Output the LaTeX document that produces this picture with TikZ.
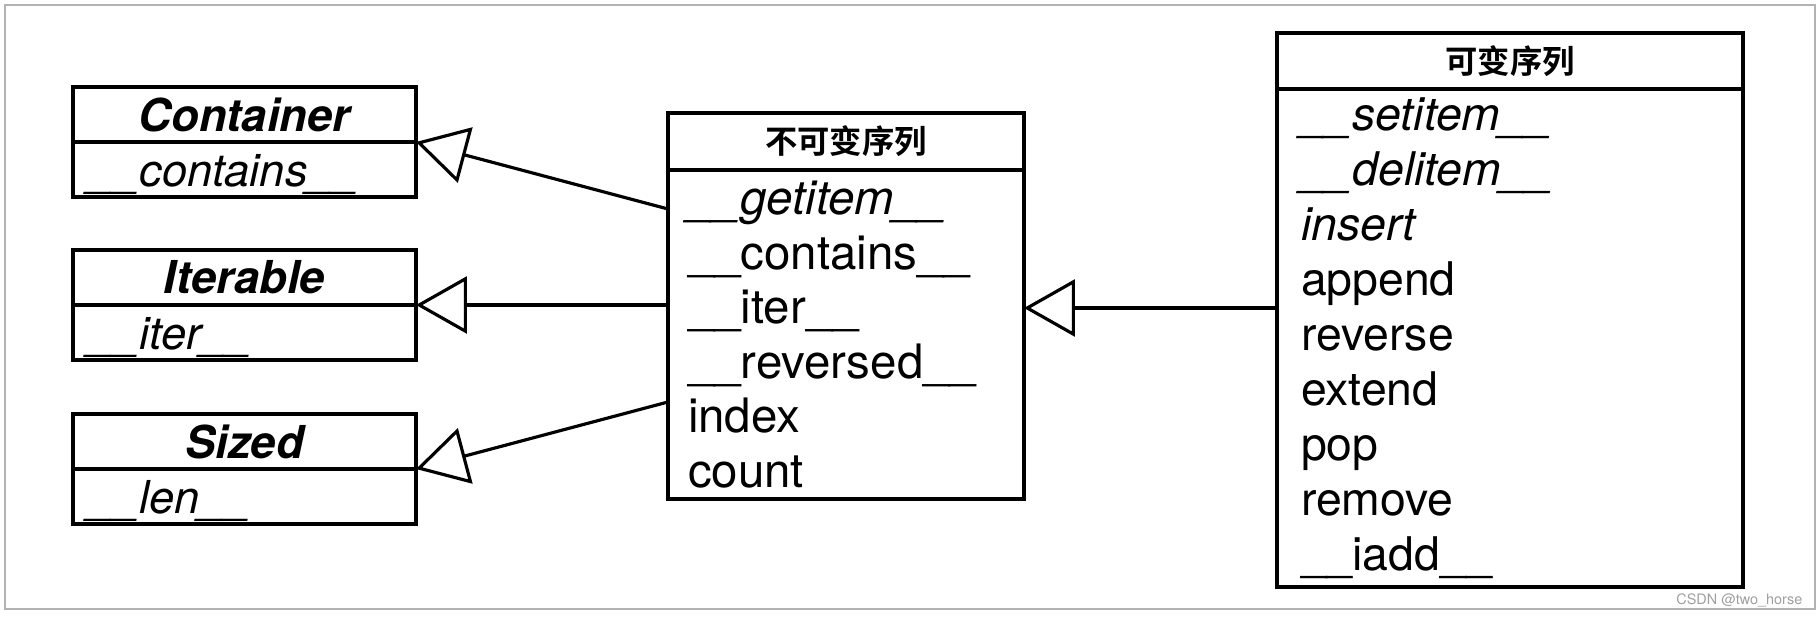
\documentclass[tikz,border=0pt]{standalone}
\usepackage{fontspec}
\setmainfont{TeX Gyre Heros}
\newfontfamily\cjk{Noto Sans CJK SC}[BoldFont={Noto Sans CJK SC Bold}]
\usetikzlibrary{arrows.meta,positioning}
\tikzset{
	box/.style={draw, line width=0.9pt, outer sep=0pt, inner sep=0pt},
	lefthead/.style={box, minimum width=3.43cm, minimum height=0.55cm,
		font=\fontsize{12.9}{15}\selectfont\bfseries\itshape},
	leftbody/.style={box, minimum width=3.43cm, minimum height=0.55cm,
		text width=3.11cm, inner xsep=0.16cm, align=left, text height=11pt, text depth=1.5pt,
		font=\fontsize{12.9}{15}\selectfont\itshape},
	seqhead/.style={box, minimum height=#1,
		font=\cjk\bfseries\fontsize{9.2}{11}\selectfont},
	seqbody/.style={box, align=left},
	generalize/.style={-{Triangle[open,length=14.5pt,width=16.2pt]}, line width=0.9pt}
}
\begin{document}
\begin{tikzpicture}
	\useasboundingbox (0,0) rectangle (18.18,6.18);
	\draw[gray!60, line width=0.6pt] (0.05,0.09) rectangle (18.15,6.13);
	% abstract base classes
	\node[lefthead, anchor=north west] (container-h) at (0.73,5.31) {Container};
	\node[leftbody, below=0pt of container-h] (container-b) {\_\_contains\_\_};
	\node[lefthead, anchor=north west] (iterable-h) at (0.73,3.68) {Iterable};
	\node[leftbody, below=0pt of iterable-h] (iterable-b) {\_\_iter\_\_};
	\node[lefthead, anchor=north west] (sized-h) at (0.73,2.04) {Sized};
	\node[leftbody, below=0pt of sized-h] (sized-b) {\_\_len\_\_};
	% immutable sequence
	\node[seqhead=0.57cm, minimum width=3.56cm, anchor=north west] (imm-h) at (6.68,5.05) {不可变序列};
	\node[seqbody, below=0pt of imm-h, minimum height=3.29cm, text width=3.16cm, inner xsep=0.2cm,
		font=\fontsize{13.5}{15.5}\selectfont] (imm-b)
		{\textit{\_\_getitem\_\_}\\ \_\_contains\_\_\\ \_\_iter\_\_\\ \_\_reversed\_\_\\ index\\ count};
	% mutable sequence
	\node[seqhead=0.56cm, minimum width=4.66cm, anchor=north west] (mut-h) at (12.77,5.85) {可变序列};
	\node[seqbody, below=0pt of mut-h, minimum height=4.98cm, text width=4.18cm, inner xsep=0.24cm,
		font=\fontsize{13.2}{15.65}\selectfont] (mut-b)
		{\textit{\_\_setitem\_\_}\\ \textit{\_\_delitem\_\_}\\ \textit{insert}\\ append\\ reverse\\
		extend\\ pop\\ remove\\ \_\_iadd\_\_};
	% inheritance
	\coordinate (imm-c) at ([yshift=-0.39cm]imm-b.north west);
	\coordinate (imm-s) at ([yshift=-2.32cm]imm-b.north west);
	\coordinate (mut-i) at ([yshift=-2.19cm]mut-b.north west);
	\draw[generalize] (imm-c) -- (container-h.south east);
	\draw[generalize] (imm-b.west |- iterable-h.south east) -- (iterable-h.south east);
	\draw[generalize] (imm-s) -- (sized-h.south east);
	\draw[generalize] (mut-i) -- (imm-b.east |- mut-i);
	\node[anchor=base east, inner sep=0pt, text=gray!75, font=\fontsize{4.1}{5}\selectfont] (mark)
		at (18.03,0.13) {CSDN @two\_horse};
\end{tikzpicture}
\end{document}
